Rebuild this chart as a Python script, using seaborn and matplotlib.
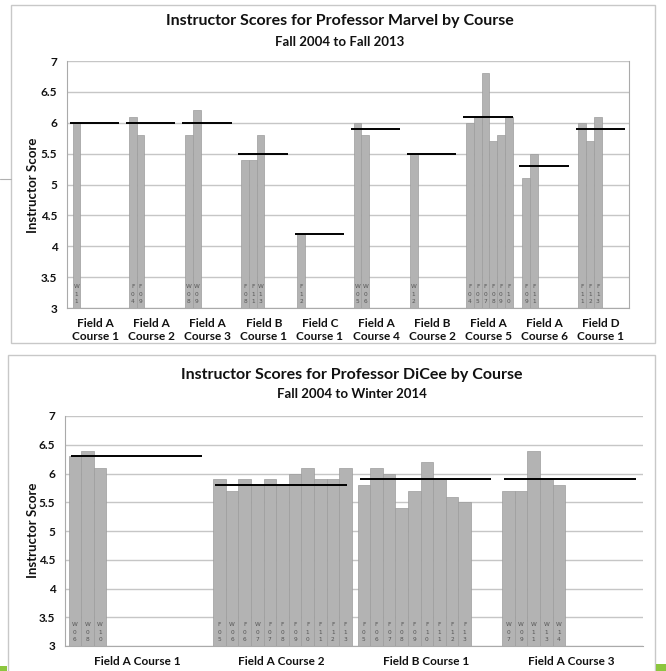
import numpy as np
import pandas as pd
import matplotlib
matplotlib.use("Agg")
import matplotlib.pyplot as plt
from matplotlib.patches import Rectangle
from matplotlib.lines import Line2D
import seaborn as sns

# ---------------- data ----------------
marvel_courses = ["Field A\nCourse 1", "Field A\nCourse 2", "Field A\nCourse 3", "Field B\nCourse 1",
                  "Field C\nCourse 1", "Field A\nCourse 4", "Field B\nCourse 2", "Field A\nCourse 5",
                  "Field A\nCourse 6", "Field D\nCourse 1"]
marvel_terms = [["W11"], ["F04", "F09"], ["W08", "W09"], ["F08", "F11", "W13"], ["F12"],
                ["W05", "W06"], ["W12"], ["F04", "F05", "F07", "F08", "F09", "F10"],
                ["F09", "F11"], ["F11", "F12", "F13"]]
marvel_scores = [[6.0], [6.1, 5.8], [5.8, 6.2], [5.4, 5.4, 5.8], [4.2],
                 [6.0, 5.8], [5.5], [6.0, 6.1, 6.8, 5.7, 5.8, 6.1],
                 [5.1, 5.5], [6.0, 5.7, 6.1]]
marvel_means = [6.0, 6.0, 6.0, 5.5, 4.2, 5.9, 5.5, 6.1, 5.3, 5.9]

dicee_courses = ["Field A Course 1", "Field A Course 2", "Field B Course 1", "Field A Course 3"]
dicee_terms = [["W06", "W08", "W10"],
               ["F05", "W06", "F06", "W07", "F07", "F08", "F09", "F10", "F11", "F12", "F13"],
               ["F05", "F06", "F07", "F08", "F09", "F10", "F11", "F12", "F13"],
               ["W07", "W09", "W11", "W13", "W14"]]
dicee_scores = [[6.3, 6.4, 6.1],
                [5.9, 5.7, 5.9, 5.8, 5.9, 5.8, 6.0, 6.1, 5.9, 5.9, 6.1],
                [5.8, 6.1, 6.0, 5.4, 5.7, 6.2, 5.9, 5.6, 5.5],
                [5.7, 5.7, 6.4, 5.9, 5.8]]
dicee_means = [6.3, 5.8, 5.9, 5.9]

yticks = [3, 3.5, 4, 4.5, 5, 5.5, 6, 6.5, 7]
ytick_labels = ["3", "3.5", "4", "4.5", "5", "5.5", "6", "6.5", "7"]

# ---------------- style ----------------
sns.set_theme(style="white")
plt.rcParams["font.family"] = ["Lato", "DejaVu Sans"]

BAR = "#b3b3b3"
EDGE = "#9c9c9c"
GRID = "#c6c6c6"
TXT = "#111111"

W, H = 666, 671
fig = plt.figure(figsize=(W / 100, H / 100), dpi=100)


def fx(px):
    return px / W


def fy(py):
    return 1 - py / H


def draw_chart(ax, courses, terms, scores, means, offset, bw, line_l, line_r,
               label_fs, bar_text_fs, bar_text_dy, label_pad):
    rows = []
    for i, (tl, sl) in enumerate(zip(terms, scores)):
        for j, (t, s) in enumerate(zip(tl, sl)):
            rows.append({"pos": i + offset + (j + 0.5) * bw, "score": s, "term": t, "course": i})
    df = pd.DataFrame(rows)
    sns.barplot(data=df, x="pos", y="score", native_scale=True, width=1.0,
                color=BAR, saturation=1, edgecolor=EDGE, linewidth=0.5,
                errorbar=None, ax=ax, zorder=2)
    # mean lines
    for i, m in enumerate(means):
        ax.hlines(m, i + line_l, i + line_r, color="black", linewidth=1.4, zorder=4)
    # labels inside bars (one character per line)
    for _, r in df.iterrows():
        ax.annotate("\n".join(list(r["term"])), xy=(r["pos"], 3), xytext=(0, bar_text_dy),
                    textcoords="offset points", ha="center", va="bottom", rotation=0,
                    fontsize=bar_text_fs, color="#555555", linespacing=1.55, zorder=5,
                    family="DejaVu Sans")
    n = len(courses)
    ax.set_xlim(0, n)
    ax.set_ylim(3, 7)
    ax.set_yticks(yticks)
    ax.set_yticklabels(ytick_labels, fontsize=8.5, fontweight="bold", color=TXT)
    ax.set_xticks(np.arange(n + 1))
    ax.set_xticklabels([""] * (n + 1))
    ax.set_xticks(np.arange(n) + 0.5, minor=True)
    ax.set_xticklabels(courses, minor=True, fontsize=label_fs, fontweight="bold", color=TXT)
    ax.tick_params(axis="x", which="major", length=4, width=0.8, color="#aaaaaa", direction="out")
    ax.tick_params(axis="x", which="minor", length=0, pad=label_pad)
    ax.tick_params(axis="y", length=4, width=0.8, color="#aaaaaa", direction="out", pad=3)
    ax.grid(axis="y", color=GRID, linewidth=1.0, zorder=0)
    ax.set_axisbelow(True)
    ax.set_xlabel("")
    ax.set_ylabel("")
    ax.spines["top"].set_visible(False)
    for s in ["left", "bottom"]:
        ax.spines[s].set_color("#aaaaaa")
        ax.spines[s].set_linewidth(0.8)


# ---------------- top chart ----------------
ax1 = fig.add_axes([fx(67), fy(308), fx(629 - 67), (308 - 61) / H])
draw_chart(ax1, marvel_courses, marvel_terms, marvel_scores, marvel_means,
           offset=0.1, bw=0.138, line_l=0.05, line_r=0.93,
           label_fs=8.5, bar_text_fs=4.2, bar_text_dy=3, label_pad=7)
ax1.spines["right"].set_color("#aaaaaa")
ax1.spines["right"].set_linewidth(0.8)
fig.text(fx(340), fy(21), "Instructor Scores for Professor Marvel by Course", ha="center", va="center",
         fontsize=11.5, fontweight="bold", color=TXT)
fig.text(fx(340), fy(42), "Fall 2004 to Fall 2013", ha="center", va="center",
         fontsize=9.5, fontweight="bold", color=TXT)
fig.text(fx(33), fy(185), "Instructor Score", rotation=90, ha="center", va="center",
         fontsize=9.5, fontweight="bold", color=TXT)

# ---------------- bottom chart ----------------
ax2 = fig.add_axes([fx(65), fy(646), fx(643 - 65), (646 - 416) / H])
draw_chart(ax2, dicee_courses, dicee_terms, dicee_scores, dicee_means,
           offset=0.025, bw=0.0872, line_l=0.04, line_r=0.95,
           label_fs=8.5, bar_text_fs=4.2, bar_text_dy=3, label_pad=7)
ax2.spines["right"].set_visible(False)
fig.text(fx(352), fy(375), "Instructor Scores for Professor DiCee by Course", ha="center", va="center",
         fontsize=11.5, fontweight="bold", color=TXT)
fig.text(fx(352), fy(394), "Fall 2004 to Winter 2014", ha="center", va="center",
         fontsize=9.5, fontweight="bold", color=TXT)
fig.text(fx(33), fy(530), "Instructor Score", rotation=90, ha="center", va="center",
         fontsize=9.5, fontweight="bold", color=TXT)

# ---------------- frames / slide decorations ----------------
fig.add_artist(Rectangle((fx(11), fy(343)), fx(655 - 11), (343 - 5) / H, transform=fig.transFigure,
                         fill=False, edgecolor="#c8c8c8", linewidth=1.0))
fig.add_artist(Rectangle((fx(8), fy(680)), fx(655 - 8), (680 - 355) / H, transform=fig.transFigure,
                         fill=False, edgecolor="#c8c8c8", linewidth=1.0))
fig.add_artist(Line2D([0, fx(11)], [fy(179), fy(179)], transform=fig.transFigure,
                      color="#b0b0b0", linewidth=0.8))
fig.add_artist(Rectangle((0, 0), fx(7), 5 / H, transform=fig.transFigure,
                         facecolor="#8cc63e", edgecolor="none"))
fig.add_artist(Rectangle((fx(656), 0), fx(10), 7 / H, transform=fig.transFigure,
                         facecolor="#8cc63e", edgecolor="none"))

fig.savefig("out.png", dpi=100, facecolor="white")
